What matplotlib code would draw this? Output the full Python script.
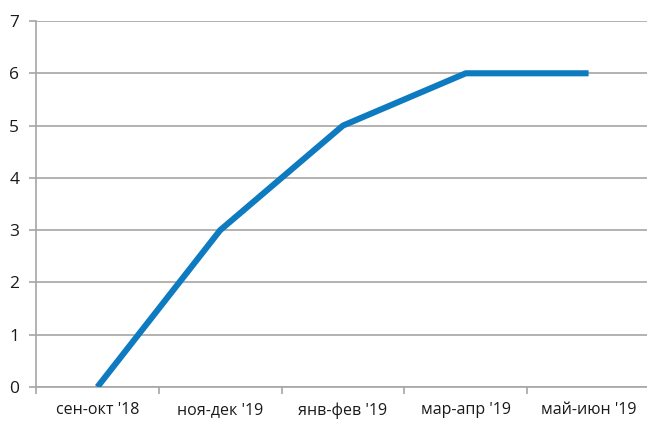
import matplotlib.pyplot as plt
from matplotlib.ticker import FixedLocator

periods = ["сен-окт '18", "ноя-дек '19", "янв-фев '19", "мар-апр '19", "май-июн '19"]
values = [0, 3, 5, 6, 6]
y_ticks = [0, 1, 2, 3, 4, 5, 6, 7]

plt.rcParams['font.family'] = ['Open Sans', 'DejaVu Sans']

fig = plt.figure(figsize=(6.47, 4.21), dpi=100)
ax = fig.add_axes([36 / 647, 34 / 421, 614 / 647, 366 / 421])

x = list(range(len(periods)))
ax.plot(x, values, color='#0E7BC1', linewidth=4.4, solid_capstyle='butt', zorder=3)

ax.set_xlim(-0.5, len(periods) - 0.5)
ax.set_ylim(0, 7)
ax.set_yticks(y_ticks)
ax.set_xticks(x)
ax.set_xticklabels(periods, fontsize=11.5, color='#1a1a1a')
ax.tick_params(axis='x', which='major', length=0, pad=11)
ax.xaxis.set_minor_locator(FixedLocator([i - 0.5 for i in range(len(periods) + 1)]))
ax.tick_params(axis='x', which='minor', length=5, width=1.2, color='#a6a6a6', direction='out')
ax.tick_params(axis='y', length=5, width=1.2, color='#a6a6a6', labelsize=12.5, labelcolor='#1a1a1a', pad=7)

ax.grid(axis='y', color='#a6a6a6', linewidth=1.2)
for side in ['top', 'right']:
    ax.spines[side].set_visible(False)
ax.spines['left'].set_color('#a6a6a6')
ax.spines['left'].set_linewidth(1.2)
ax.spines['bottom'].set_color('#a6a6a6')
ax.spines['bottom'].set_linewidth(1.2)

fig.savefig('out.png', dpi=100)
